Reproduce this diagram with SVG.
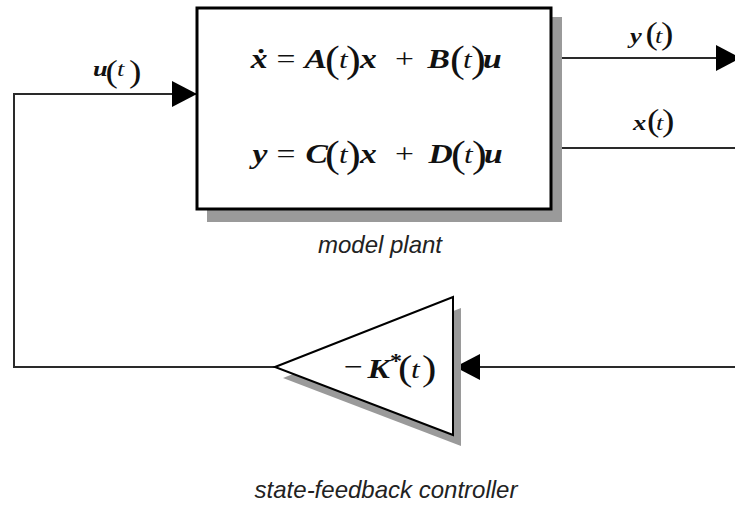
<svg xmlns="http://www.w3.org/2000/svg" width="735" height="508" viewBox="0 0 735 508">
<defs>
<style>
.wire{fill:none;stroke:#2a2a2a;stroke-width:2}
.shadow{fill:#9a9a9a}
.blk{fill:#fff;stroke:#000;stroke-width:3}
.m{font-family:"Liberation Serif","Times New Roman",serif;fill:#111}
.v{font-weight:bold;font-style:italic;font-size:28px}
.t{font-style:italic;font-size:26px}
.op{font-size:28px}
.p{font-size:37px}
.lv{font-weight:bold;font-style:italic;font-size:22px}
.lt{font-style:italic;font-size:22px}
.lp{font-size:31px}
.cap{font-family:"Liberation Sans",Arial,sans-serif;font-style:italic;font-size:24px;fill:#222;text-anchor:middle}
</style>
<marker id="ah" markerUnits="userSpaceOnUse" markerWidth="26" markerHeight="27" refX="25" refY="13" orient="auto">
<path d="M0,0 L25,13 L0,26 Z" fill="#000"/>
</marker>
</defs>

<g id="connectors">
<path class="wire" d="M551,58 H741" marker-end="url(#ah)"/>
<path class="wire" d="M551,148 H735"/>
<path class="wire" d="M735,367 H455" marker-end="url(#ah)"/>
<path class="wire" d="M275,367 H14 V94 H197" marker-end="url(#ah)"/>
<text class="m" transform="scale(1.2,1)"><tspan class="lv" x="77.5" y="76">u</tspan><tspan class="lp" x="87.9" y="82.5">(</tspan><tspan class="lt" x="97.5" y="76">t</tspan><tspan class="lp" x="107.5" y="82.5">)</tspan></text>
<text class="m" transform="scale(1.2,1)"><tspan class="lv" x="525" y="43">y</tspan><tspan class="lp" x="537.9" y="44.5">(</tspan><tspan class="lt" x="545.8" y="43">t</tspan><tspan class="lp" x="550.8" y="44.5">)</tspan></text>
<text class="m" transform="scale(1.2,1)"><tspan class="lv" x="527.5" y="130">x</tspan><tspan class="lp" x="539.2" y="131.5">(</tspan><tspan class="lt" x="546.7" y="130">t</tspan><tspan class="lp" x="551.7" y="131.5">)</tspan></text>
</g>

<g id="model-plant">
<rect class="shadow" x="207" y="17" width="355" height="205"/>
<rect class="blk" x="197" y="8" width="354" height="201"/>
<text class="m" transform="scale(1.2,1)"><tspan class="v" x="209" y="68">ẋ</tspan><tspan class="op" x="230.5" y="68">=</tspan><tspan class="v" x="253.8" y="68">A</tspan><tspan class="p" x="270.8" y="71.7">(</tspan><tspan class="t" x="282.5" y="68">t</tspan><tspan class="p" x="288.3" y="71.7">)</tspan><tspan class="v" x="300" y="68">x</tspan><tspan class="op" x="329.2" y="68">+</tspan><tspan class="v" x="356.2" y="68">B</tspan><tspan class="p" x="375" y="71.7">(</tspan><tspan class="t" x="385.8" y="68">t</tspan><tspan class="p" x="392.5" y="71.7">)</tspan><tspan class="v" x="402.5" y="68">u</tspan></text>
<text class="m" transform="scale(1.2,1)"><tspan class="v" x="210.4" y="163">y</tspan><tspan class="op" x="230.5" y="163">=</tspan><tspan class="v" x="254.6" y="163">C</tspan><tspan class="p" x="270.8" y="166.7">(</tspan><tspan class="t" x="282.5" y="163">t</tspan><tspan class="p" x="288.3" y="166.7">)</tspan><tspan class="v" x="300" y="163">x</tspan><tspan class="op" x="329.2" y="163">+</tspan><tspan class="v" x="357" y="163">D</tspan><tspan class="p" x="375.8" y="166.7">(</tspan><tspan class="t" x="386.6" y="163">t</tspan><tspan class="p" x="393.3" y="166.7">)</tspan><tspan class="v" x="403.3" y="163">u</tspan></text>
<text class="cap" x="380" y="253">model plant</text>
</g>

<g id="controller">
<polygon class="shadow" points="283,378 461,308 461,446"/>
<polygon points="275,367 453,297 453,435" fill="#fff" stroke="#000" stroke-width="2"/>
<text class="m" transform="scale(1.2,1)"><tspan class="op" x="286.7" y="376">−</tspan><tspan class="v" x="306.2" y="378">K</tspan><tspan style="font-size:20px;font-weight:bold" x="325" y="368">*</tspan><tspan style="font-size:36px" x="331.7" y="380">(</tspan><tspan class="t" x="342.5" y="378">t</tspan><tspan style="font-size:36px" x="351.7" y="380">)</tspan></text>
<text class="cap" x="386" y="498">state-feedback controller</text>
</g>
</svg>
